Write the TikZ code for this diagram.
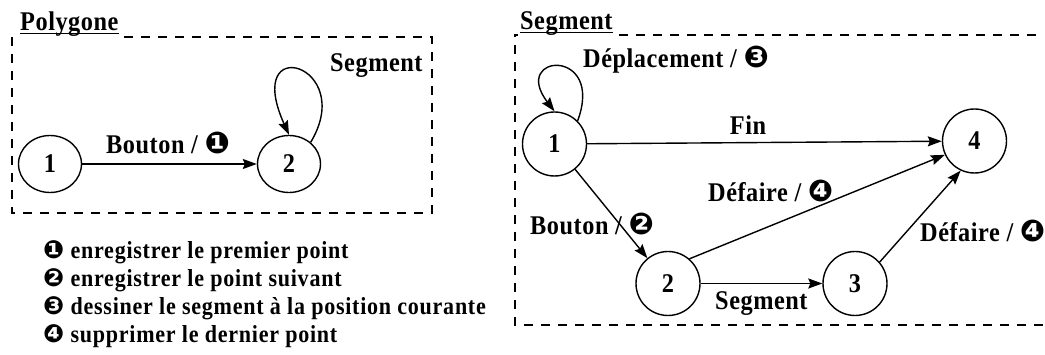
\documentclass[tikz,border=0pt]{standalone}
\usepackage{fontspec}
\usetikzlibrary{arrows.meta,shapes.geometric}
\newfontfamily\labfont[FakeStretch=0.9,LetterSpace=2]{Liberation Serif}
\newfontfamily\legfont[FakeStretch=0.9,LetterSpace=3]{Liberation Serif}
\newfontfamily\dvfont{DejaVu Sans}
\newcommand\cn[2]{{\dvfont\fontsize{#1}{#1}\selectfont #2}}
\begin{document}
\begin{tikzpicture}[x=1pt,y=-1pt,
  labtext/.style={font=\labfont\bfseries\fontsize{27}{30}\selectfont},
  state/.style={circle,draw,line width=1.4pt,minimum size=64pt,inner sep=0pt,labtext},
  lstate/.style={ellipse,draw,line width=1.4pt,minimum width=63pt,minimum height=57pt,inner sep=0pt,labtext},
  lab/.style={inner sep=0pt,anchor=base west,labtext},
  leg/.style={inner sep=0pt,anchor=base west,font=\legfont\bfseries\fontsize{24.5}{28}\selectfont},
  tr/.style={line width=1.4pt,-{Stealth[length=14pt,width=10pt,inset=2pt]}},
  frame/.style={line width=1.3pt,dash pattern=on 9pt off 8pt},
  uline/.style={line width=1.2pt}
]
\useasboundingbox (0,0) rectangle (1045,355);

% titles
\node[lab] (t1) at (20,31) {Polygone};
\node[lab] (t2) at (520,30) {Segment};
\draw[uline] ([yshift=-2.5pt]t1.base west) -- ([yshift=-2.5pt]t1.base east);
\draw[uline] ([yshift=-2.5pt]t2.base west) -- ([yshift=-2.5pt]t2.base east);

% frames
\draw[frame] (124,37) -- (432,37) -- (432,213) -- (12,213) -- (12,37) -- (18,37);
\draw[frame] (619,35) -- (1040,35);
\draw[frame] (1043,325) -- (515,325) -- (515,35) -- (518,35);

% left automaton
\node[lstate] (p1) at (50,164) {1};
\node[lstate] (p2) at (289,164) {2};
\draw[tr] (p1) -- (p2);
\draw[tr] (p2.45) .. controls +(47,-78) and +(-47,-104) .. (p2.north);
\node[lab] (lb1) at (106,154) {Bouton / \cn{30}{❶}};
\node[lab] (lb2) at (330,72) {Segment};

% right automaton
\node[state] (s1) at (554.5,144) {1};
\node[state] (s2) at (668,283.5) {2};
\node[state] (s3) at (855,283.5) {3};
\node[state] (s4) at (974.5,141) {4};
\draw[tr] (s1.45) .. controls +(27.5,-74) and +(-44.5,-58) .. (s1.north);
\draw[tr] (s1) -- (s4);
\draw[tr] (s1) -- (s2);
\draw[tr] (s2.49) -- (s4.205);
\draw[tr] (s2) -- (s3);
\draw[tr] (s3.41) -- (s4.245);
\node[lab] (r1) at (583,68) {Déplacement / \cn{30}{❸}};
\node[lab,anchor=base] (r2) at (748,135) {Fin};
\node[lab] (r3) at (708,202) {Défaire / \cn{30}{❹}};
\node[lab] (r4) at (530,235) {Bouton / \cn{30}{❷}};
\node[lab] (r5) at (920,242) {Défaire / \cn{30}{❹}};
\node[lab] (r6) at (715,310) {Segment};

% legend
\node[leg] (g1) at (43,259) {\cn{25}{❶} enregistrer le premier point};
\node[leg] (g2) at (43,287) {\cn{25}{❷} enregistrer le point suivant};
\node[leg] (g3) at (43,315) {\cn{25}{❸} dessiner le segment à la position courante};
\node[leg] (g4) at (43,343) {\cn{25}{❹} supprimer le dernier point};
\end{tikzpicture}
\end{document}
